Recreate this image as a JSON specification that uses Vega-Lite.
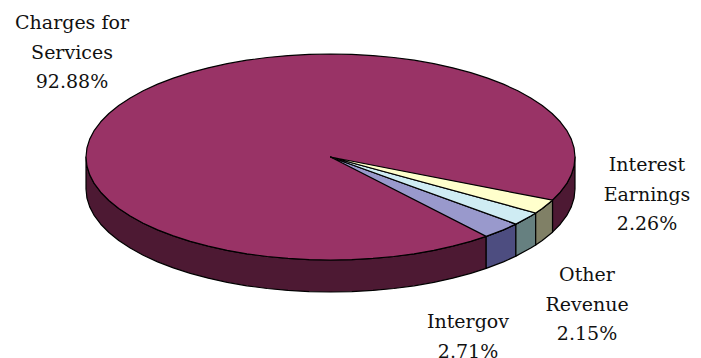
{
  "$schema": "https://vega.github.io/schema/vega-lite/v6.json",
  "width": 701,
  "height": 358,
  "padding": 0,
  "autosize": "none",
  "background": "white",
  "config": {"view": {"stroke": null}},
  "datasets": {
    "pie": [
      {"part":"Charges side","x":86,"y":157,"y2":189},
      {"part":"Charges side","x":86.93,"y":165.98,"y2":197.98},
      {"part":"Charges side","x":89.71,"y":174.89,"y2":206.89},
      {"part":"Charges side","x":94.33,"y":183.66,"y2":215.66},
      {"part":"Charges side","x":100.75,"y":192.23,"y2":224.23},
      {"part":"Charges side","x":108.91,"y":200.53,"y2":232.53},
      {"part":"Charges side","x":118.76,"y":208.5,"y2":240.5},
      {"part":"Charges side","x":130.22,"y":216.08,"y2":248.08},
      {"part":"Charges side","x":143.2,"y":223.21,"y2":255.21},
      {"part":"Charges side","x":157.61,"y":229.83,"y2":261.83},
      {"part":"Charges side","x":173.34,"y":235.9,"y2":267.9},
      {"part":"Charges side","x":190.26,"y":241.37,"y2":273.37},
      {"part":"Charges side","x":208.25,"y":246.2,"y2":278.2},
      {"part":"Charges side","x":227.17,"y":250.35,"y2":282.35},
      {"part":"Charges side","x":246.88,"y":253.79,"y2":285.79},
      {"part":"Charges side","x":267.22,"y":256.49,"y2":288.49},
      {"part":"Charges side","x":288.04,"y":258.44,"y2":290.44},
      {"part":"Charges side","x":309.19,"y":259.61,"y2":291.61},
      {"part":"Charges side","x":330.5,"y":260,"y2":292},
      {"part":"Charges side","x":351.81,"y":259.61,"y2":291.61},
      {"part":"Charges side","x":372.96,"y":258.44,"y2":290.44},
      {"part":"Charges side","x":393.78,"y":256.49,"y2":288.49},
      {"part":"Charges side","x":414.12,"y":253.79,"y2":285.79},
      {"part":"Charges side","x":433.83,"y":250.35,"y2":282.35},
      {"part":"Charges side","x":452.75,"y":246.2,"y2":278.2},
      {"part":"Charges side","x":470.74,"y":241.37,"y2":273.37},
      {"part":"Charges side","x":486.2,"y":236.4,"y2":268.4},

      {"part":"Charges side right","x":552.5,"y":200.2,"y2":232.2},
      {"part":"Charges side right","x":560.25,"y":192.23,"y2":224.23},
      {"part":"Charges side right","x":566.67,"y":183.66,"y2":215.66},
      {"part":"Charges side right","x":571.29,"y":174.89,"y2":206.89},
      {"part":"Charges side right","x":574.07,"y":165.98,"y2":197.98},
      {"part":"Charges side right","x":575,"y":157,"y2":189},

      {"part":"Intergov side","x":486.2,"y":236.4,"y2":268.4},
      {"part":"Intergov side","x":503.39,"y":229.83,"y2":261.83},
      {"part":"Intergov side","x":515.9,"y":224.1,"y2":256.1},

      {"part":"Other Revenue side","x":515.9,"y":224.1,"y2":256.1},
      {"part":"Other Revenue side","x":530.78,"y":216.08,"y2":248.08},
      {"part":"Other Revenue side","x":535.7,"y":213,"y2":245},

      {"part":"Interest Earnings side","x":535.7,"y":213,"y2":245},
      {"part":"Interest Earnings side","x":542.24,"y":208.5,"y2":240.5},
      {"part":"Interest Earnings side","x":552.5,"y":200.2,"y2":232.2},

      {"part":"Charges for Services","x":86,"y":157,"y2":157},
      {"part":"Charges for Services","x":86.93,"y":148.02,"y2":165.98},
      {"part":"Charges for Services","x":89.71,"y":139.11,"y2":174.89},
      {"part":"Charges for Services","x":94.33,"y":130.34,"y2":183.66},
      {"part":"Charges for Services","x":100.75,"y":121.77,"y2":192.23},
      {"part":"Charges for Services","x":108.91,"y":113.47,"y2":200.53},
      {"part":"Charges for Services","x":118.76,"y":105.5,"y2":208.5},
      {"part":"Charges for Services","x":130.22,"y":97.92,"y2":216.08},
      {"part":"Charges for Services","x":143.2,"y":90.79,"y2":223.21},
      {"part":"Charges for Services","x":157.61,"y":84.17,"y2":229.83},
      {"part":"Charges for Services","x":173.34,"y":78.1,"y2":235.9},
      {"part":"Charges for Services","x":190.26,"y":72.63,"y2":241.37},
      {"part":"Charges for Services","x":208.25,"y":67.8,"y2":246.2},
      {"part":"Charges for Services","x":227.17,"y":63.65,"y2":250.35},
      {"part":"Charges for Services","x":246.88,"y":60.21,"y2":253.79},
      {"part":"Charges for Services","x":267.22,"y":57.51,"y2":256.49},
      {"part":"Charges for Services","x":288.04,"y":55.56,"y2":258.44},
      {"part":"Charges for Services","x":309.19,"y":54.39,"y2":259.61},
      {"part":"Charges for Services","x":330.5,"y":54,"y2":260},
      {"part":"Charges for Services","x":351.81,"y":54.39,"y2":259.61},
      {"part":"Charges for Services","x":372.96,"y":55.56,"y2":258.44},
      {"part":"Charges for Services","x":393.78,"y":57.51,"y2":256.49},
      {"part":"Charges for Services","x":414.12,"y":60.21,"y2":253.79},
      {"part":"Charges for Services","x":433.83,"y":63.65,"y2":250.35},
      {"part":"Charges for Services","x":452.75,"y":67.8,"y2":246.2},
      {"part":"Charges for Services","x":470.74,"y":72.63,"y2":241.37},
      {"part":"Charges for Services","x":487.66,"y":78.1,"y2":235.9},
      {"part":"Charges for Services","x":503.39,"y":84.17,"y2":229.83},
      {"part":"Charges for Services","x":517.8,"y":90.79,"y2":223.21},
      {"part":"Charges for Services","x":530.78,"y":97.92,"y2":216.08},
      {"part":"Charges for Services","x":542.24,"y":105.5,"y2":208.5},
      {"part":"Charges for Services","x":552.09,"y":113.47,"y2":200.53},
      {"part":"Charges for Services","x":560.25,"y":121.77,"y2":192.23},
      {"part":"Charges for Services","x":566.67,"y":130.34,"y2":183.66},
      {"part":"Charges for Services","x":571.29,"y":139.11,"y2":174.89},
      {"part":"Charges for Services","x":574.07,"y":148.02,"y2":165.98},
      {"part":"Charges for Services","x":575,"y":157,"y2":157},

      {"part":"Intergov","x":330.5,"y":157,"y2":157},
      {"part":"Intergov","x":486.2,"y":213.35,"y2":236.4},
      {"part":"Intergov","x":503.39,"y":219.57,"y2":229.83},
      {"part":"Intergov","x":515.9,"y":224.1,"y2":224.1},

      {"part":"Other Revenue","x":330.5,"y":157,"y2":157},
      {"part":"Other Revenue","x":515.9,"y":207.6,"y2":224.1},
      {"part":"Other Revenue","x":530.78,"y":211.66,"y2":216.08},
      {"part":"Other Revenue","x":535.7,"y":213,"y2":213},

      {"part":"Interest Earnings","x":330.5,"y":157,"y2":157},
      {"part":"Interest Earnings","x":535.7,"y":196.93,"y2":213},
      {"part":"Interest Earnings","x":542.24,"y":198.2,"y2":208.5},
      {"part":"Interest Earnings","x":552.5,"y":200.2,"y2":200.2}
    ],
    "labels": [
      {"label":"Charges for|Services|92.88%","x":72,"y":23},
      {"label":"Interest|Earnings|2.26%","x":647,"y":165},
      {"label":"Other|Revenue|2.15%","x":587,"y":275},
      {"label":"Intergov|2.71%","x":468,"y":322}
    ]
  },
  "layer": [
    {
      "data": {"name": "pie"},
      "mark": {"type": "area", "stroke": "#000000", "strokeWidth": 1.2, "strokeJoin": "round", "opacity": 1, "clip": false},
      "encoding": {
        "x": {"field": "x", "type": "quantitative", "axis": null, "scale": {"domain": [0, 701], "nice": false, "zero": false}},
        "y": {"field": "y", "type": "quantitative", "axis": null, "scale": {"domain": [358, 0], "nice": false, "zero": false}},
        "y2": {"field": "y2"},
        "color": {
          "field": "part",
          "type": "nominal",
          "legend": null,
          "sort": null,
          "scale": {
            "domain": ["Charges side", "Charges side right", "Intergov side", "Other Revenue side", "Interest Earnings side", "Charges for Services", "Intergov", "Other Revenue", "Interest Earnings"],
            "range": ["#4D1933", "#4D1933", "#4D4D80", "#668080", "#808066", "#993366", "#9999CC", "#CFECF3", "#FFFFCC"]
          }
        }
      }
    },
    {
      "data": {"name": "labels"},
      "mark": {"type": "text", "font": "DejaVu Serif", "fontSize": 19, "color": "#111111", "align": "center", "baseline": "middle", "lineBreak": "|", "lineHeight": 29.5, "clip": false},
      "encoding": {
        "x": {"field": "x", "type": "quantitative", "axis": null},
        "y": {"field": "y", "type": "quantitative", "axis": null},
        "text": {"field": "label"}
      }
    }
  ]
}
